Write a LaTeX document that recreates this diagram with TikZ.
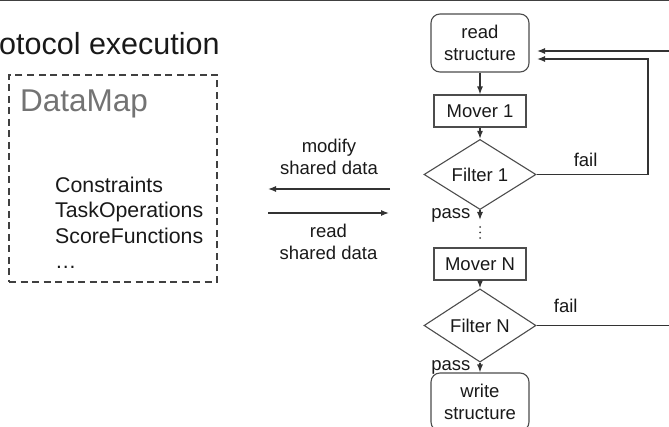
\documentclass[tikz,border=0pt]{standalone}
\usepackage{fontspec}
\setmainfont{Liberation Sans}
\usetikzlibrary{shapes.geometric,arrows.meta,positioning}

\begin{document}
\begin{tikzpicture}[x=1pt, y=-1pt, every node/.style={font=\fontsize{18.5}{22}\selectfont, text=black!90}]
    \tikzstyle{term} = [rectangle, draw=black!70, line width=1.1pt, rounded corners=9pt, align=center, minimum width=98pt, minimum height=58pt, inner sep=0pt]
    \tikzstyle{mover} = [rectangle, draw=black!70, line width=1.1pt, minimum width=92pt, minimum height=32pt, inner sep=0pt]
    \tikzstyle{filter} = [diamond, draw=black!70, line width=1.1pt, minimum width=112pt, minimum height=45pt, inner sep=0pt]
    \tikzstyle{arr} = [-{Latex[length=8pt,width=6pt]}, draw=black!80, line width=1.3pt]
    \tikzstyle{lbl} = [inner sep=0pt, align=center]

    \useasboundingbox (0,0) rectangle (669,427);
    \clip (0,0) rectangle (669,427);

    \draw[line width=3pt, black!75] (0,0) -- (669,0);
    \node (title) [anchor=base west, inner sep=0pt, font=\fontsize{30.5}{36}\selectfont] at (-1,55) {otocol execution};

    % shared data
    \node (datamap) [draw=black!75, dash pattern=on 7pt off 4.5pt, line width=1.3pt, minimum width=208pt, minimum height=207pt] at (113,178.5) {};
    \node (dmtitle) [anchor=base west, inner sep=0pt, text=black!55, font=\fontsize{31.5}{36}\selectfont] at (20,112) {DataMap};
    \node (dmlist) [anchor=north west, inner sep=0pt, align=left, font=\fontsize{21.3}{25.3}\selectfont] at (55,177) {Constraints\\TaskOperations\\ScoreFunctions\\\dots};

    % protocol
    \node (readin) [term] at (480,43) {read\\structure};
    \node (mover1) [mover] at (480,111) {Mover 1};
    \node (filter1) [filter] at (480,174.5) {Filter 1};
    \node (moverN) [mover] at (480,264) {Mover N};
    \node (filterN) [filter] at (480,325.5) {Filter N};
    \node (writeout) [term] at (480,402) {write\\structure};

    \coordinate (pass1) at (480,220);
    \coordinate (in1) at (537,51);
    \coordinate (in2) at (537,59);
    \coordinate (loop1) at (648,174.5);
    \coordinate (loopN) at (690,325.5);
    \foreach \y in {227,232.5,238}
        \fill[black!75] (480,\y) circle (1pt);

    \draw [arr] (readin) -- (mover1);
    \draw [arr] (mover1) -- (filter1);
    \draw [arr] (filter1) -- node[lbl, left=9pt] {pass} (pass1);
    \draw [arr] (filter1.east) -- node[lbl, pos=0.44, above=7pt] {fail} (loop1) |- (in2);
    \draw [arr] (moverN) -- (filterN);
    \draw [arr] (filterN) -- node[lbl, left=9pt] {pass} (writeout);
    \draw [arr] (filterN.east) -- node[lbl, pos=0.19, above=12pt] {fail} (loopN) |- (in1);

    % shared data access
    \coordinate (modA) at (390,189);
    \coordinate (modB) at (268,189);
    \coordinate (rdA) at (268,213);
    \coordinate (rdB) at (389,213);
    \draw [arr] (modA) -- node[lbl, above=14pt] {modify\\shared data} (modB);
    \draw [arr] (rdA) -- node[lbl, below=10pt] {read\\shared data} (rdB);

\end{tikzpicture}
\end{document}
